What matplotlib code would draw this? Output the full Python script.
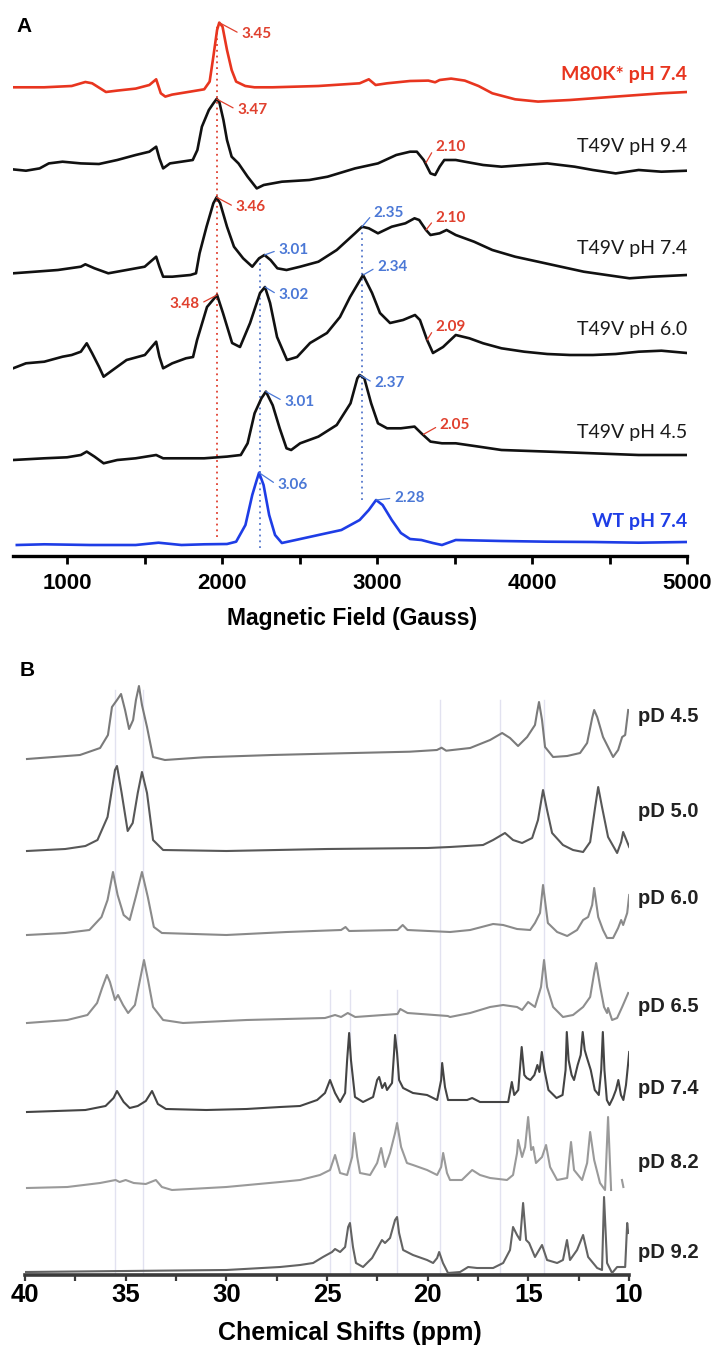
import matplotlib
matplotlib.use('Agg')
import matplotlib.pyplot as plt
import numpy as np

# ================= DATA =================
# ---- Panel A: EPR spectra (field in Gauss, intensity in arbitrary units) ----
m80k_74 = [(652,0),(852,0),(1030,1.3),(1118,5.3),(1162,4),(1251,-4.7),(1324,-3.3),(1443,-1.3),(1531,2.3),(1575,8),
           (1605,-6),(1634,-9.3),(1678,-7.3),(1796,-4.3),(1885,-2),(1920,5.7),(1944,30.7),(1968,57.3),(1982,64.7),(2003,60.7),
           (2032,37.3),(2062,17.3),(2091,5.7),(2150,1.3),(2209,0),(2327,0),(2622,1.3),(2888,4),(2947,8),(2991,2.3),
           (3065,4),(3213,6.3),(3331,6.7),(3375,5),(3404,7.3),(3478,8.7),(3566,6.7),(3655,1.3),(3744,-6),(3891,-12),
           (4039,-14.3),(4245,-12.7),(4540,-9.3),(4835,-6),(5000,-4.7)]
t49v_94 = [(652,1.3),(735,0),(823,2.3),(882,7.3),(971,9),(1089,7.3),(1206,6.7),(1324,10.7),(1443,15.7),(1531,19),
           (1575,24),(1596,12.3),(1620,2.3),(1664,7.3),(1738,9),(1811,10.7),(1841,20.7),(1870,44),(1915,60.7),(1944,67.3),
           (1965,71.7),(1982,69),(2009,50.7),(2032,30.7),(2062,14),(2106,7.3),(2165,-6),(2224,-17.7),(2269,-14.3),(2386,-11),
           (2563,-9.3),(2681,-6),(2858,2.3),(3006,7.3),(3124,15.7),(3213,19),(3257,19),(3301,10.7),(3345,-2.7),(3375,-4.3),
           (3404,4),(3434,10.7),(3508,10.7),(3567,9),(3685,5.7),(3803,4),(3950,5.7),(4098,7.3),(4275,4),(4393,0.7),
           (4540,-2.7),(4688,0.7),(4835,-1),(5000,0)]
t49v_74 = [(652,1.7),(794,3.3),(941,5),(1089,8.3),(1118,10.7),(1177,6.7),(1266,1.7),(1384,5),(1501,8.3),(1575,18.3),
           (1596,8.3),(1620,-1.7),(1679,-1.7),(1796,0),(1832,1.7),(1855,21.7),(1900,48.3),(1944,71.7),(1965,77.7),(1988,71.7),
           (2032,48.3),(2077,28.3),(2136,16.7),(2195,8.3),(2239,16.7),(2274,20),(2313,15),(2357,6.7),(2416,5),(2504,8.3),
           (2622,13.3),(2740,25),(2858,41.7),(2903,48.3),(2947,46.7),(3006,41.7),(3095,48.3),(3183,51.7),(3242,56.7),(3272,55),
           (3316,45),(3345,40),(3404,41.7),(3449,45),(3508,40),(3626,33.3),(3744,25),(3891,18.3),(4039,13.3),(4186,8.3),
           (4334,3.3),(4481,0),(4629,-3.3),(4776,-1.7),(5000,0)]
t49v_60 = [(652,-15.3),(735,-10.3),(853,-8.7),(971,-3.7),(1030,-2),(1089,1.3),(1127,9.7),(1162,-0.3),(1206,-13.7),(1236,-23.7),
           (1295,-17),(1384,-7),(1502,-2),(1575,11.3),(1596,-3.7),(1620,-15.3),(1679,-10.3),(1767,-5.3),(1813,-4),(1839,13),
           (1903,46),(1968,58),(2006,40),(2065,10),(2116,6),(2181,30),(2245,60),(2277,66),(2310,50),(2355,16),
           (2419,-7),(2484,-4),(2568,10),(2677,20),(2761,36),(2826,56),(2910,78),(2968,60),(3019,40),(3084,30),
           (3168,33),(3245,38),(3277,33),(3323,13),(3361,0),(3426,6),(3508,18),(3596,14.7),(3685,9.7),(3803,4.7),
           (3950,1.3),(4098,-1),(4245,-2),(4393,-2),(4540,-1),(4688,1.3),(4835,2.3),(5000,0)]
t49v_45 = [(652,-1.7),(853,0),(1000,1),(1089,3.3),(1127,6.7),(1177,1.7),(1236,-5),(1324,-1.7),(1443,0),(1575,3.3),
           (1620,0),(1738,0),(1885,0),(2032,1.7),(2121,3.3),(2165,15),(2210,45),(2254,60),(2283,66.7),(2327,53),
           (2372,30),(2416,10),(2446,8.3),(2504,15),(2622,21.7),(2740,33.3),(2829,55),(2873,80),(2888,83.3),(2918,80),
           (2962,55),(3006,35),(3065,30),(3154,30),(3242,31.7),(3286,25),(3345,16.7),(3419,15),(3508,15),(3655,11.7),
           (3803,8.3),(4098,6.7),(4393,5),(4688,3.3),(5000,3.3)]
wt_74 = [(676,0),(853,0.7),(1148,0),(1443,0),(1590,2.3),(1738,0),(1885,0.7),(2032,1),(2091,3.3),(2151,20),
         (2195,50),(2224,65),(2239,72.3),(2268,60),(2304,30),(2342,10),(2386,2),(2475,5),(2622,10),(2770,15),
         (2888,25),(2947,35),(2994,45),(3036,40),(3095,25),(3154,12),(3213,6),(3286,5),(3360,2),(3419,0),
         (3508,5),(3803,4),(4098,3.3),(4393,3),(4688,2.3),(5000,3)]

epr_names = ["M80K* pH 7.4", "T49V pH 9.4", "T49V pH 7.4", "T49V pH 6.0", "T49V pH 4.5", "WT pH 7.4"]
epr_series = [m80k_74, t49v_94, t49v_74, t49v_60, t49v_45, wt_74]

# g-value annotations: (trace index, peak field, peak intensity, text field, text intensity, text, kind)
g_labels = [
    (0, 1982, 64.7, 2123, 53, "3.45", "r"),
    (1, 1965, 71.7, 2097, 60.7, "3.47", "r"),
    (1, 3316, 8, 3375, 24, "2.10", "r"),
    (2, 1965, 77.7, 2086, 67.7, "3.46", "r"),
    (2, 2274, 20, 2363, 25, "3.01", "b"),
    (2, 2903, 48.3, 2977, 61.7, "2.35", "b"),
    (2, 3316, 45, 3375, 56.7, "2.10", "r"),
    (3, 1968, 58, 1856, 49, "3.48", "r"),
    (3, 2277, 66, 2363, 58, "3.02", "b"),
    (3, 2910, 78, 3000, 86, "2.34", "b"),
    (3, 3323, 13, 3375, 26, "2.09", "r"),
    (4, 2283, 66.7, 2401, 56.7, "3.01", "b"),
    (4, 2888, 83.3, 2982, 75, "2.37", "b"),
    (4, 3300, 24, 3404, 33, "2.05", "r"),
    (5, 2239, 72.3, 2357, 60, "3.06", "b"),
    (5, 2994, 45, 3109, 47, "2.28", "b"),
]
guide_fields = [1970, 2245, 2905]
a_ticks = [1000, 2000, 3000, 4000, 5000]

# ---- Panel B: NMR spectra (chemical shift in ppm, intensity arbitrary) ----
pd45 = [(39.9,-1),(37.27,3),(36.27,10),(35.88,23),(35.68,51),(35.43,58),(35.23,64),(35.03,48),(34.83,29),(34.63,38),
        (34.49,58),(34.34,72),(34.19,53),(33.94,31),(33.64,1),(33.05,-2),(31.13,0.7),(27.72,3),(24.31,4.7),(20.9,6.3),
        (19.54,8),(19.31,10.3),(19.08,7.3),(17.89,10),(16.9,18),(16.3,25),(15.91,20),(15.51,12),(15.06,21),(14.67,33),
        (14.57,45),(14.47,56),(14.32,38),(14.17,11),(13.77,1),(13.07,2),(12.43,5),(12.08,15),(11.83,40),(11.73,48),
        (11.58,41),(11.29,21),(10.79,1),(10.54,8),(10.34,21),(10.19,23),(10.04,48)]
pd50 = [(39.9,0),(38.0,2),(37.0,5),(36.4,11),(35.9,34),(35.53,81),(35.43,85),(35.2,58),(34.9,20),(34.65,28),
        (34.4,58),(34.19,79),(33.94,58),(33.64,11),(33.14,1),(30.0,0),(25.0,2),(20.0,3),(18.89,4),(17.25,6),
        (16.75,11),(16.16,18),(15.76,11),(15.31,8),(14.81,13),(14.52,31),(14.27,61),(14.07,41),(13.82,18),(13.28,6),
        (12.78,1),(12.28,-1),(11.93,9),(11.68,44),(11.53,64),(11.34,44),(11.04,14),(10.59,-2),(10.39,9),(10.29,19),
        (10.09,9),(9.99,4)]
pd60 = [(39.9,0),(38.0,2),(36.8,5),(36.2,18),(35.9,35),(35.63,63),(35.4,40),(35.1,20),(34.8,15),(34.5,38),
        (34.19,63),(33.9,38),(33.6,8),(33.2,2),(30.0,0),(27.0,3),(24.3,5),(24.08,8),(23.9,4),(21.5,5),
        (21.24,10),(21.0,5),(18.89,3),(17.89,5),(16.75,11),(16.25,10),(15.56,6),(14.91,5),(14.67,12),(14.42,22),
        (14.27,50),(14.03,12),(13.57,3),(13.07,-1),(12.58,5),(12.28,15),(12.03,18),(11.83,30),(11.73,47),(11.53,18),
        (11.29,5),(11.09,-3),(10.79,-3),(10.54,7),(10.39,15),(10.29,10),(10.09,22),(9.99,40)]
pd65 = [(39.9,-1),(37.9,2),(36.9,7),(36.42,19),(36.17,34),(35.93,47),(35.78,40),(35.53,22),(35.38,27),(35.13,17),
        (34.88,9),(34.54,17),(34.29,42),(34.09,62),(33.89,42),(33.64,15),(33.14,2),(32.15,-1),(29.0,2),(25.1,4),
        (24.6,7),(24.3,5),(23.97,9),(23.6,5),(21.5,8),(21.36,13),(21.0,9),(19.0,6),(18.89,5),(17.89,9),
        (16.9,15),(16.25,17),(15.56,15),(15.31,12),(15.01,20),(14.67,15),(14.37,35),(14.22,62),(14.07,35),(13.77,15),
        (13.28,5),(12.78,7),(12.28,15),(11.93,25),(11.73,49),(11.63,59),(11.43,35),(11.24,15),(11.09,9),(11.04,14),
        (10.84,2),(10.59,4),(10.34,15),(10.19,22),(10.04,29)]
pd74 = [(39.9,-2),(37.0,0),(36.0,4),(35.6,12),(35.43,19),(35.1,8),(34.8,2),(34.4,4),(34.0,9),(33.69,19),
        (33.4,6),(33.0,1),(31.0,0),(29.0,1),(27.33,3),(26.34,4),(25.49,10),(25.1,17),(24.85,30),(24.6,17),
        (24.35,8),(24.1,17),(24.0,50),(23.9,77),(23.81,50),(23.61,13),(23.21,8),(22.71,13),(22.51,30),(22.41,33),
        (22.26,22),(22.12,27),(22.02,20),(21.77,27),(21.67,57),(21.62,75),(21.52,57),(21.42,30),(21.22,22),(20.73,17),
        (20.03,15),(19.53,10),(19.33,30),(19.28,47),(19.14,23),(18.99,10),(18.04,10),(17.79,12),(17.4,8),(16.5,8),
        (16.0,8),(15.82,28),(15.7,15),(15.5,20),(15.33,63),(15.2,35),(15.08,32),(14.9,30),(14.7,35),(14.55,45),
        (14.45,38),(14.33,58),(14.2,40),(14.0,20),(13.6,12),(13.3,15),(13.15,40),(13.09,78),(13.0,50),(12.85,35),
        (12.73,30),(12.55,45),(12.4,55),(12.3,78),(12.2,60),(12.1,53),(11.9,40),(11.7,20),(11.5,15),(11.38,40),
        (11.3,78),(11.22,40),(11.1,10),(10.97,5),(10.8,12),(10.65,20),(10.53,30),(10.4,15),(10.28,10),(10.15,25),
        (10.05,45),(9.99,58)]
pd82 = [(39.9,0),(37.9,1),(36.27,5),(35.5,8),(35.3,6),(35.0,8),(34.6,5),(34.0,4),(33.5,8),(33.2,1),
        (32.7,-2),(30.0,1),(27.33,6),(26.34,8),(25.35,13),(24.85,18),(24.6,33),(24.35,15),(24.0,13),(23.75,31),
        (23.65,55),(23.5,31),(23.36,15),(22.86,13),(22.51,25),(22.31,40),(22.12,21),(21.87,35),(21.62,55),(21.52,65),
        (21.32,41),(21.03,25),(20.73,23),(20.03,18),(19.53,13),(19.33,21),(19.23,35),(19.04,15),(18.89,8),(18.3,8),
        (17.79,18),(17.4,13),(16.9,10),(16.06,8),(15.76,13),(15.56,35),(15.51,48),(15.31,31),(15.16,41),(15.01,71),
        (14.86,38),(14.76,41),(14.62,25),(14.32,31),(14.12,43),(13.92,21),(13.57,8),(13.07,10),(12.88,46),(12.73,18),
        (12.33,8),(12.08,25),(11.93,56),(11.73,28),(11.44,5),(11.19,-2),(11.04,71),(10.89,-2)]
pd82_tail = [(10.35,8),(10.28,1)]
pd92 = [(40.0,0),(35.0,1),(30.0,2),(27.33,5),(26.34,7),(25.69,9),(25.2,15),(24.75,20),(24.6,23),(24.35,20),
        (24.1,25),(23.95,45),(23.86,49),(23.71,25),(23.56,9),(23.21,5),(22.76,14),(22.46,25),(22.27,32),(22.12,29),
        (21.87,34),(21.62,52),(21.52,55),(21.42,39),(21.22,22),(20.73,17),(20.03,12),(19.73,9),(19.53,14),(19.43,20),
        (19.24,9),(18.99,-1),(18.39,0),(17.99,5),(17.55,4),(16.75,4),(16.25,9),(15.91,22),(15.76,45),(15.56,37),
        (15.41,32),(15.26,69),(15.11,32),(14.96,29),(14.67,15),(14.32,27),(14.07,12),(13.57,9),(13.28,12),(13.08,32),
        (12.93,12),(12.58,22),(12.28,37),(12.03,15),(11.58,4),(11.34,2),(11.24,75),(11.09,9),(10.84,-1),(10.59,5),
        (10.34,5),(10.19,5),(10.09,49),(10.04,39)]

nmr_names = ["pD 4.5", "pD 5.0", "pD 6.0", "pD 6.5", "pD 7.4", "pD 8.2", "pD 9.2"]
nmr_series = [pd45, pd50, pd60, pd65, pd74, pd82, pd92]
nmr_guides = [35.53, 34.14, 24.85, 23.86, 21.52, 19.4, 16.4, 14.2]
b_ticks = [40, 35, 30, 25, 20, 15, 10]

# ================= STYLE / LAYOUT =================
W, H = 714, 1347
fig = plt.figure(figsize=(W / 100, H / 100), dpi=100)
BOLD = dict(family=['Liberation Sans', 'DejaVu Sans'], weight='bold')
LAB = dict(family=['Lato', 'DejaVu Sans'])

RED_T, RED_L = '#e8351f', '#e0402e'
BLUE_T, BLUE_L = '#1e3de6', '#4b78d6'
epr_colors = [RED_T, '#111111', '#111111', '#111111', '#111111', BLUE_T]
epr_label_colors = [RED_T, '#1a1a1a', '#1a1a1a', '#1a1a1a', '#1a1a1a', BLUE_T]
epr_offsets = [468.7, 385.3, 281, 203, 97.7, 11]
epr_label_dy = [12.3, 23.7, 26, 23, 26, 23]

axA = fig.add_axes([12.8 / W, 1 - 556 / H, 674.2 / W, 546 / H])
axA.set_xlim(650, 5000)
axA.set_ylim(0, 546)

# guide dotted lines
axA.plot([guide_fields[0]] * 2, [19, 533], color='#e04030', lw=1.3, ls=(0, (1, 2.2)), zorder=1)
axA.plot([guide_fields[1]] * 2, [8, 301], color='#5577cc', lw=1.3, ls=(0, (1, 2.2)), zorder=1)
axA.plot([guide_fields[2]] * 2, [56, 330], color='#5577cc', lw=1.3, ls=(0, (1, 2.2)), zorder=1)

for data, off, col in zip(epr_series, epr_offsets, epr_colors):
    f = np.array([p[0] for p in data], float)
    v = np.array([p[1] for p in data], float)
    axA.plot(f, v + off, color=col, lw=1.9, solid_joinstyle='round', zorder=3)

for name, off, dy, col in zip(epr_names, epr_offsets, epr_label_dy, epr_label_colors):
    w = 'bold' if col != '#1a1a1a' else 'normal'
    axA.text(5000, off + dy, name, ha='right', va='center', fontsize=14, color=col,
             fontweight=w, **LAB)

for ti, pf, pi, tf, tiv, txt, kind in g_labels:
    c = RED_L if kind == 'r' else BLUE_L
    off = epr_offsets[ti]
    ha = 'left' if tf > pf else 'right'
    axA.annotate(txt, xy=(pf, pi + off), xytext=(tf, tiv + off), ha=ha, va='center',
                 fontsize=11, color=c, fontweight='bold', family=['Lato', 'DejaVu Sans'],
                 arrowprops=dict(arrowstyle='-', color=c, lw=0.9,
                                 relpos=(0, 0.5) if ha == 'left' else (1, 0.5),
                                 shrinkA=1, shrinkB=0), zorder=4)

for s in ['left', 'top', 'right']:
    axA.spines[s].set_visible(False)
axA.spines['bottom'].set_linewidth(2.4)
axA.set_yticks([])
axA.set_xticks(a_ticks)
axA.set_xticks([1500, 2500, 3500, 4500], minor=True)
axA.tick_params(axis='x', which='both', direction='out', length=6, width=2, pad=6)
axA.set_xticklabels([str(t) for t in a_ticks])
for lbl in axA.get_xticklabels():
    lbl.set_fontsize(16)
    lbl.set_fontfamily(['Liberation Sans', 'DejaVu Sans'])
    lbl.set_fontweight('bold')
fig.text(352 / W, 1 - 618 / H, 'Magnetic Field (Gauss)', ha='center', va='center', fontsize=16.5, **BOLD)
fig.text(16 / W, 1 - 26 / H, 'A', ha='left', va='center', fontsize=15, **BOLD)

# ---- Panel B ----
nmr_colors = ['#7a7a7a', '#585858', '#8a8a8a', '#8e8e8e', '#444444', '#9a9a9a', '#636363']
nmr_offsets = [517, 424, 340, 253, 165, 87, 3]
nmr_label_y = [558, 463, 377, 268, 187, 112, 23]
guide_spans = [(0, 585), (0, 585), (0, 285), (0, 285), (0, 285), (0, 575), (0, 575), (0, 575)]

axB = fig.add_axes([25 / W, 1 - 1275 / H, 604 / W, 595 / H])
axB.set_xlim(40, 10)
axB.set_ylim(0, 595)

for x, (y0, y1) in zip(nmr_guides, guide_spans):
    axB.plot([x, x], [y0, y1], color='#e2e2f0', lw=1.0, zorder=1)

for data, off, col in zip(nmr_series, nmr_offsets, nmr_colors):
    s = np.array([p[0] for p in data], float)
    v = np.array([p[1] for p in data], float)
    axB.plot(s, v + off, color=col, lw=1.5, solid_joinstyle='round', zorder=3)
s = np.array([p[0] for p in pd82_tail]); v = np.array([p[1] for p in pd82_tail])
axB.plot(s, v + nmr_offsets[5], color=nmr_colors[5], lw=1.5, zorder=3)

for name, y in zip(nmr_names, nmr_label_y):
    axB.text(9.55, y, name, ha='left', va='center', fontsize=14.5, color='#222222',
             clip_on=False, **BOLD)

for s_ in ['left', 'top', 'right']:
    axB.spines[s_].set_visible(False)
axB.spines['bottom'].set_linewidth(2.6)
axB.spines['bottom'].set_color('#3a3a3a')
axB.set_yticks([])
axB.set_xticks(b_ticks)
axB.set_xticks([37.5, 32.5, 27.5, 22.5, 17.5, 12.5], minor=True)
axB.tick_params(axis='x', which='both', direction='out', length=4, width=1.6, pad=2, color='#3a3a3a')
axB.set_xticklabels([str(t) for t in b_ticks])
for lbl in axB.get_xticklabels():
    lbl.set_fontsize(18.5)
    lbl.set_fontfamily(['Liberation Sans', 'DejaVu Sans'])
    lbl.set_fontweight('bold')
fig.text(350 / W, 1 - 1333 / H, 'Chemical Shifts (ppm)', ha='center', va='center', fontsize=18, **BOLD)
fig.text(20 / W, 1 - 670 / H, 'B', ha='left', va='center', fontsize=15, **BOLD)

fig.savefig('out.png', dpi=100)
